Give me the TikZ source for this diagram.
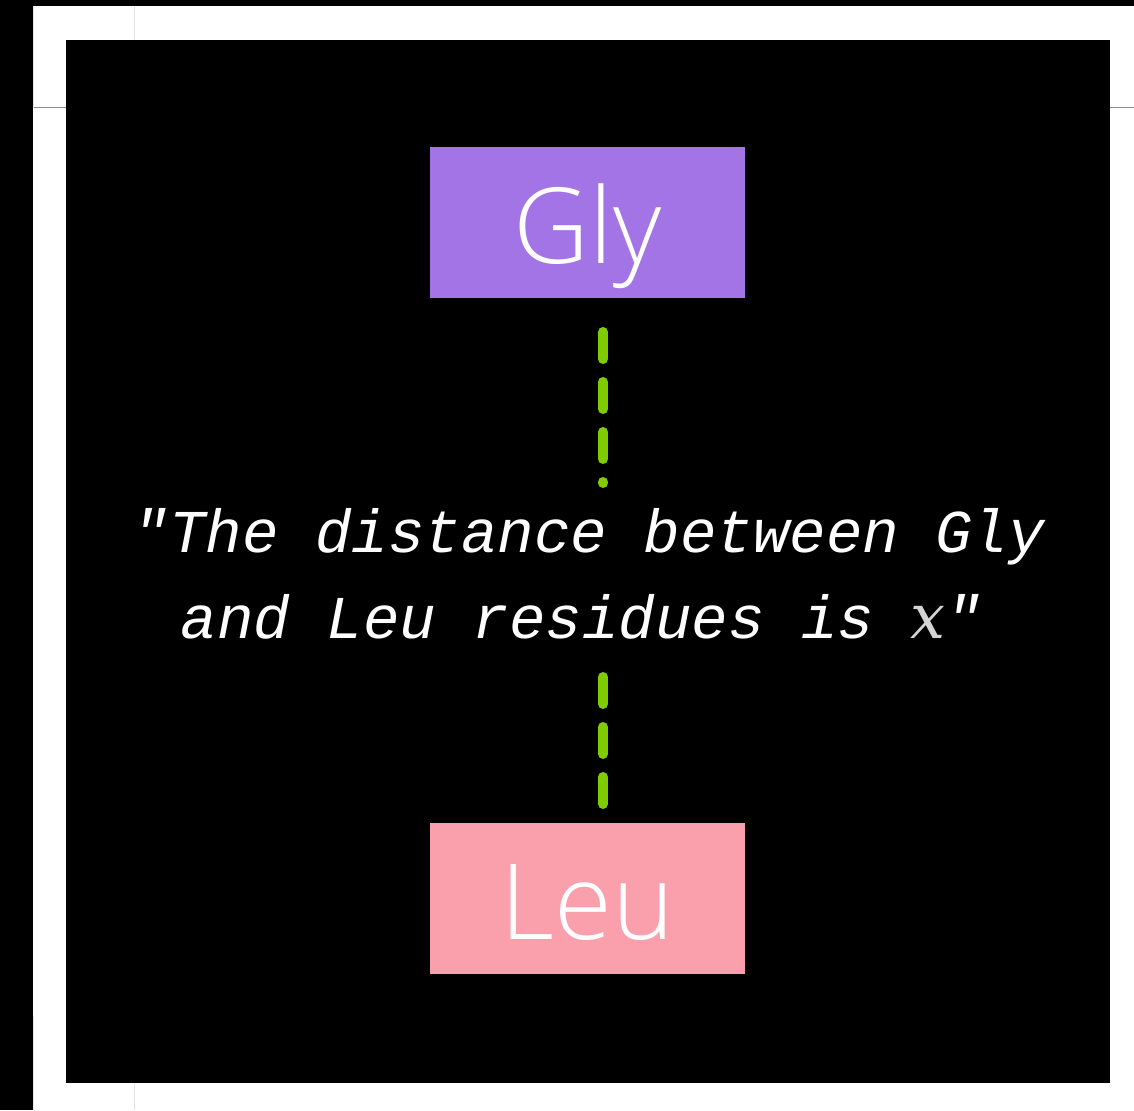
\documentclass[tikz,border=0pt]{standalone}
\usepackage{fontspec}
\newfontfamily\monofont{Liberation Mono}[Ligatures=TeXOff]
\newfontfamily\lightsans{Open Sans Light}
\newfontfamily\serifvar{DejaVu Serif}
\definecolor{glyc}{HTML}{A274E6}
\definecolor{leuc}{HTML}{F9A0AC}
\definecolor{dashg}{HTML}{7FCC00}
\definecolor{xgray}{HTML}{D4D4D4}
\begin{document}
\begin{tikzpicture}[x=1pt,y=-1pt,
  resbox/.style={minimum width=315pt, minimum height=151pt, inner sep=0pt,
    text height=82pt, text depth=0pt, text=white,
    font=\lightsans\fontsize{105}{105}\selectfont},
  link/.style={draw=dashg, line width=10pt, line cap=round, dash pattern=on 27pt off 23pt},
  quote/.style={text=white, inner sep=0pt, anchor=base,
    font=\monofont\itshape\fontsize{60.8}{86}\selectfont},
  edge/.style={line width=1pt}]
\useasboundingbox (0,0) rectangle (1134,1110);
\fill[black] (0,0) rectangle (1134,1110);
\fill[white] (33,6) rectangle (1134,1110);
\fill[black] (66,40) rectangle (1110,1083);
% faint edge lines
\draw[edge, draw=black!45] (33,108) -- (66,108);
\draw[edge, draw=black!45] (1110,108) -- (1134,108);
\draw[edge, draw=black!10] (134,6) -- (134,40);
\draw[edge, draw=black!10] (134,1083) -- (134,1110);
\draw[edge, draw=black!10] (33,1016) -- (33,1110);
\draw[edge, draw=black!10] (33,6) -- (33,108);
% boxes
\node[resbox, fill=glyc] (gly) at (587.5,222.5) {Gly};
\node[resbox, fill=leuc] (leu) at (587.5,898.5) {Leu};
% statement
\node[quote] (line1) at (589,552) {"The distance between Gly};
\node[quote] (line2) at (581.5,638) {and Leu residues is {\color{xgray}\serifvar\itshape\fontsize{62}{86}\selectfont x}"};
% connectors
\coordinate (a1) at (603,332);
\coordinate (a2) at (603,483);
\coordinate (b1) at (603,677);
\coordinate (b2) at (603,804);
\draw[link] (a1) -- (a2);
\draw[link] (b1) -- (b2);
\end{tikzpicture}
\end{document}
